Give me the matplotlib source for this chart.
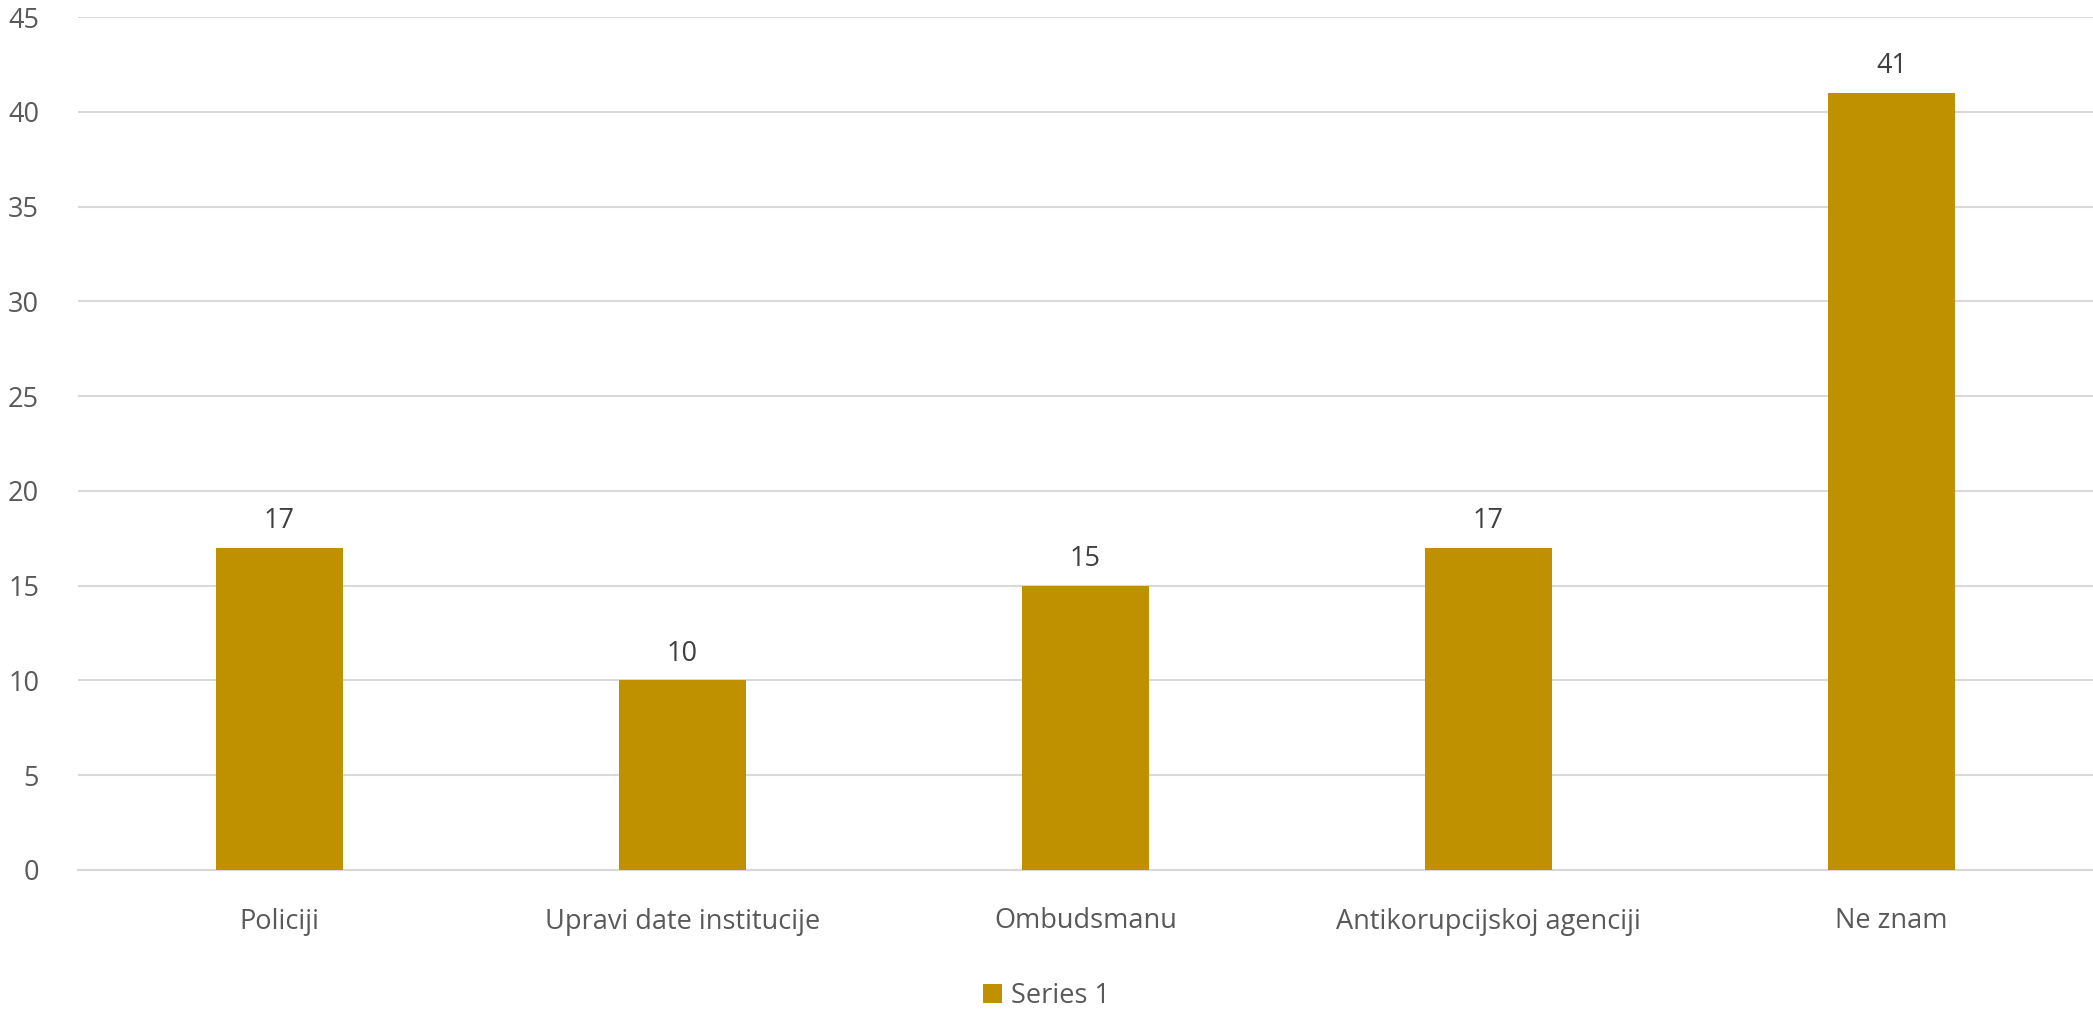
import matplotlib.pyplot as plt
import numpy as np

plt.rcParams['font.family'] = ['Open Sans', 'DejaVu Sans']

categories = ["Policiji", "Upravi date institucije", "Ombudsmanu",
              "Antikorupcijskoj agenciji", "Ne znam"]
values = [17, 10, 15, 17, 41]
series_name = "Series 1"
bar_color = '#BF9000'

W, H = 2093, 1009
fig = plt.figure(figsize=(W / 100, H / 100), dpi=100)
ax = fig.add_axes([78 / W, 1 - 870 / H, (2093 - 78) / W, (870 - 17) / H])

x = np.arange(len(categories))
bars = ax.bar(x, values, width=0.315, color=bar_color, label=series_name, zorder=3)

# value labels above each bar
for xi, v in zip(x, values):
    ax.annotate(str(v), (xi, v), xytext=(0, 9), textcoords='offset points',
                ha='center', va='bottom', fontsize=19.5, color='#404040')

ax.set_xlim(-0.5, len(categories) - 0.5)
ax.set_ylim(0, 45)
ax.set_yticks(np.arange(0, 46, 5))
ax.set_xticks(x)
ax.set_xticklabels(categories)
ax.yaxis.grid(True, color='#d9d9d9', linewidth=1.5, zorder=0)
for s in ['top', 'right', 'left']:
    ax.spines[s].set_visible(False)
ax.spines['bottom'].set_color('#d9d9d9')
ax.spines['bottom'].set_linewidth(1.5)
ax.tick_params(axis='both', length=0, labelsize=19.5, colors='#595959')
ax.tick_params(axis='x', pad=27)
ax.tick_params(axis='y', pad=28)

leg = fig.legend(loc='center', bbox_to_anchor=(0.5, 1 - 996 / H), frameon=False,
                 fontsize=19.5, handlelength=0.7, handleheight=0.7, handletextpad=0.3)
for t in leg.get_texts():
    t.set_color('#595959')

fig.savefig('out.png', dpi=100)
